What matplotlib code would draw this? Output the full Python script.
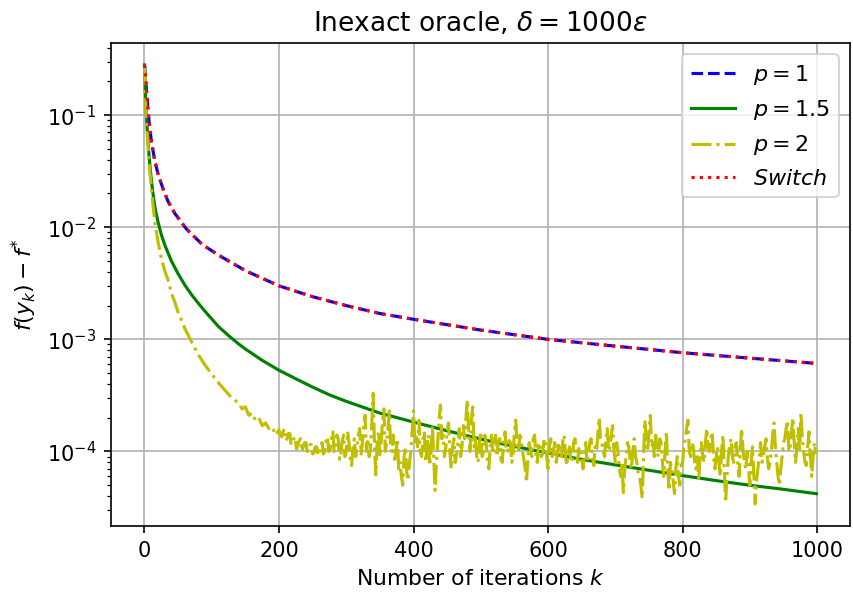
#!/usr/bin/env python3
import numpy as np
import matplotlib
matplotlib.use('Agg')
import matplotlib.pyplot as plt

DPI = 150

# p = 1
p1_k    = [0, 1, 2, 3, 4, 5, 7, 10, 15, 20, 27, 35, 45, 62, 86, 111, 150, 200,
           250, 300, 350, 400, 500, 600, 700, 800, 900, 999]
p1_vals = [0.28, 0.24, 0.2, 0.165, 0.14, 0.115, 0.085, 0.06, 0.04, 0.03, 0.0225,
           0.017, 0.0133, 0.0097, 0.007, 0.0056, 0.0041, 0.003, 0.0024, 0.002,
           0.0017, 0.00151, 0.00121, 0.001, 0.00087, 0.00076, 0.00068, 0.00061]

# Switch lies on top of p = 1
switch_k    = p1_k
switch_vals = p1_vals

# p = 1.5
p15_k    = [0, 1, 2, 3, 4, 6, 8, 10, 13, 16, 20, 25, 30, 35, 40, 50, 60, 70, 80,
            90, 100, 110, 125, 140, 150, 175, 200, 225, 250, 275, 300, 350, 400,
            450, 500, 550, 600, 650, 700, 750, 800, 850, 900, 950, 999]
p15_vals = [0.28, 0.185, 0.125, 0.095, 0.075, 0.05, 0.036, 0.027, 0.0192, 0.0145,
            0.0112, 0.0086, 0.007, 0.0059, 0.005, 0.00385, 0.00305, 0.0025, 0.0021,
            0.00178, 0.00152, 0.0013, 0.00108, 0.00091, 0.00082, 0.00065, 0.00053,
            0.000445, 0.000375, 0.00032, 0.00028, 0.00022, 0.000183, 0.000153,
            0.000129, 0.000111, 0.000097, 0.000085, 0.000076, 0.000068, 0.000061,
            0.000055, 0.00005, 0.000046, 0.000042]

# p = 2, smooth head
p2_k_head    = [0, 1, 2, 3, 4, 6, 8, 10, 13, 16, 20, 25, 30, 35, 40, 45, 50, 60,
                70, 80, 90, 100, 110, 120, 130, 140, 145, 150, 155, 160, 165, 170,
                175, 180, 185, 190, 195]
p2_vals_head = [0.28, 0.18, 0.12, 0.09, 0.07, 0.045, 0.031, 0.023, 0.015, 0.0105,
                0.0075, 0.0053, 0.0041, 0.0034, 0.0026, 0.00215, 0.00175, 0.00125,
                0.00095, 0.00073, 0.00059, 0.00049, 0.00041, 0.00035, 0.0003,
                0.00027, 0.00024, 0.00025, 0.00021, 0.00022, 0.00019, 0.0002,
                0.00017, 0.00018, 0.00016, 0.000165, 0.00014]

# p = 2, noisy tail, every 2nd iteration from k = 200, in units of 1e-4
p2_tail_e4 = [
    1.55, 1.4, 1.35, 1.5, 1.6, 1.25, 1.3, 1.45, 1.45, 1.15, 1.2, 1.3, 1.35, 1.05, 1.15, 1.25, 1.3, 1.0, 1.1, 1.2,
    1.2, 1.0, 1.05, 1.15, 1.15, 0.95, 0.98, 1.1, 1.1, 0.92, 0.97, 1.1, 1.2, 0.95, 1.0, 1.25, 1.35, 1.0, 1.05, 1.3,
    1.5, 1.0, 1.1, 1.4, 1.3, 0.85, 0.95, 1.25, 1.4, 0.9, 1.0, 1.5, 1.2, 0.85, 0.75, 1.1, 1.3, 0.9, 1.1, 1.4,
    1.6, 0.95, 1.2, 1.7, 2.1, 1.0, 1.3, 0.9, 1.05, 1.8, 3.3, 1.1, 0.62, 1.2, 1.5, 0.9, 1.25, 1.9, 2.4, 1.0,
    1.2, 1.6, 2.3, 1.1, 1.0, 1.4, 0.85, 1.0, 1.3, 0.7, 0.8, 0.6, 0.5, 0.9, 1.1, 0.65, 0.55, 0.8, 1.0, 1.5,
    2.3, 1.2, 1.4, 1.1, 1.9, 1.0, 0.9, 1.3, 1.5, 0.8, 1.1, 1.4, 0.75, 1.0, 1.7, 0.9, 0.45, 0.8, 1.2, 1.9,
    2.6, 1.3, 1.4, 0.9, 1.1, 1.5, 1.8, 1.0, 0.7, 1.1, 1.3, 0.8, 0.95, 1.2, 1.6, 0.9, 1.1, 1.7, 1.3, 2.0,
    2.9, 1.4, 1.0, 1.9, 2.5, 1.1, 1.3, 0.9, 0.8, 1.2, 1.5, 0.9, 1.0, 1.4, 1.2, 0.8, 0.7, 1.1, 1.4, 0.95,
    1.1, 1.4, 0.9, 1.2, 1.3, 0.85, 0.8, 1.3, 1.5, 1.0, 1.0, 1.25, 1.2, 0.8, 0.9, 1.5, 1.9, 1.1, 1.0, 1.4,
    1.3, 1.0, 0.85, 0.7, 0.53, 0.9, 1.2, 1.0, 0.9, 1.3, 1.4, 0.95, 0.8, 1.2, 1.1, 0.9, 0.95, 1.3, 1.2, 0.9,
    0.7, 1.1, 1.3, 0.9, 1.0, 1.2, 0.8, 0.95, 1.2, 1.0, 0.9, 1.25, 1.4, 0.9, 0.75, 1.0, 1.1, 0.8, 0.85, 1.2,
    1.3, 0.95, 0.8, 1.1, 1.05, 0.85, 0.7, 1.0, 1.2, 0.8, 0.9, 1.2, 1.3, 0.9, 0.75, 1.1, 1.0, 1.4, 2.0, 1.3,
    1.2, 1.0, 0.9, 1.3, 1.6, 1.0, 1.1, 1.4, 1.7, 1.0, 0.8, 1.2, 1.0, 0.7, 0.6, 0.8, 0.43, 0.7, 0.9, 1.2,
    1.1, 0.85, 0.7, 1.0, 1.3, 0.9, 0.8, 0.65, 0.6, 0.5, 0.38, 0.9, 1.9, 1.2, 1.0, 1.5, 2.1, 1.1, 1.2, 0.9,
    1.4, 1.0, 0.9, 1.3, 1.2, 0.8, 0.6, 1.0, 1.5, 0.7, 0.45, 0.8, 0.7, 0.55, 0.42, 0.7, 0.9, 0.6, 0.5, 0.75,
    0.8, 1.1, 1.3, 1.6, 1.9, 1.0, 0.9, 1.2, 1.1, 0.8, 0.7, 0.9, 0.55, 0.9, 1.2, 0.9, 0.8, 1.2, 1.6, 1.1,
    1.0, 1.3, 1.5, 0.9, 0.7, 0.9, 1.1, 0.8, 0.6, 1.0, 1.4, 0.7, 0.35, 0.6, 0.9, 1.1, 1.3, 0.9, 0.8, 1.1,
    1.2, 0.8, 0.6, 1.1, 1.6, 1.0, 0.8, 0.7, 1.0, 0.75, 0.5, 0.8, 1.1, 0.6, 0.34, 0.55, 0.7, 0.9, 1.2, 0.8,
    0.9, 1.1, 1.3, 0.9, 0.7, 0.8, 1.0, 1.4, 1.8, 1.1, 0.8, 0.6, 0.5, 0.7, 0.9, 1.2, 1.3, 1.6, 1.9, 1.0,
    1.1, 1.5, 2.0, 1.2, 0.8, 1.1, 1.6, 1.0, 2.2, 1.3, 1.0, 0.8, 0.75, 1.1, 1.5, 0.9, 0.6, 0.9, 1.2, 0.95,
]

labels = [r'$p=1$', r'$p=1.5$', r'$p=2$', r'$Switch$']


def prepare_plot():

    fig, ax = plt.subplots(figsize=(853 / DPI, 594 / DPI), dpi=DPI)
    fig.subplots_adjust(left=0.130, right=0.9965, bottom=0.1145, top=0.9276)

    ax.set_yscale('log')
    ax.grid(True)
    ax.set_title(r'Inexact oracle, $\delta = 1000\varepsilon$', fontsize=12.7)
    ax.set_xlabel(r'Number of iterations $k$', fontsize=10.5)
    ax.set_ylabel(r'$f(y_k) - f^{*}$', fontsize=10.5)

    return fig, ax


if __name__ == "__main__":

    fig, ax = prepare_plot()

    # tail k positions: every 2nd iteration
    p2_k    = p2_k_head + list(range(200, 1000, 2))
    p2_vals = p2_vals_head + list(np.array(p2_tail_e4) * 1e-4)

    ax.plot(p1_k, p1_vals, 'b--', label=labels[0])
    ax.plot(p15_k, p15_vals, 'g-', label=labels[1])
    ax.plot(p2_k, p2_vals, 'y-.', label=labels[2])
    ax.plot(switch_k, switch_vals, 'r:', label=labels[3])

    ax.legend(loc='upper right', fontsize=10.7)

    fig.savefig('out.png', dpi=DPI)
